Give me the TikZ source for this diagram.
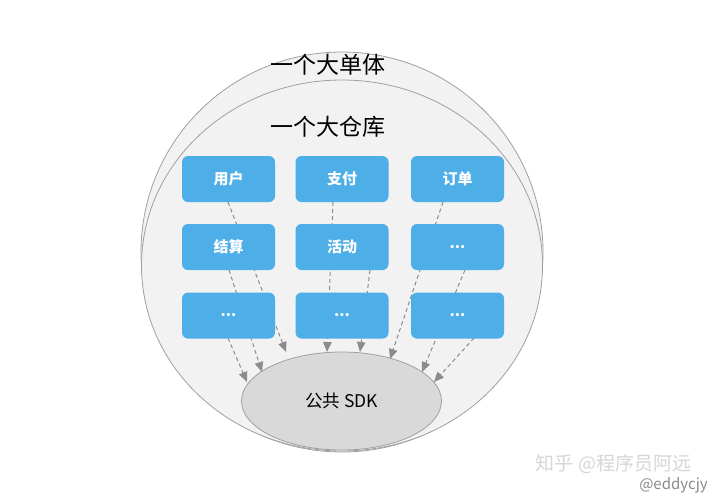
\documentclass[tikz,border=0pt]{standalone}
\usepackage{fontspec}
\setmainfont{Noto Sans CJK SC}
\usetikzlibrary{arrows.meta,calc,shapes.geometric}
\definecolor{boxblue}{HTML}{4DAEE8}
\definecolor{ringfill}{HTML}{F2F2F2}
\definecolor{ringline}{HTML}{A0A0A0}
\definecolor{sdkfill}{HTML}{D9D9D9}
\definecolor{arrowgray}{HTML}{8C8C8C}
\definecolor{wmgray}{HTML}{D6D6D6}
\definecolor{wmdark}{HTML}{8A8A8A}
\tikzset{
  ring/.style={ellipse, draw=ringline, line width=0.8pt, fill=ringfill, inner sep=0pt},
  modbox/.style={rectangle, rounded corners=6pt, fill=boxblue, minimum width=93pt, minimum height=46pt, inner sep=0pt, text=white, font=\fontsize{15}{15}\selectfont\bfseries},
  dep/.style={draw=arrowgray, dash pattern=on 4pt off 3pt, line width=1pt, -{Triangle[length=10pt,width=8.5pt,fill=arrowgray]}},
  title/.style={font=\fontsize{23}{23}\selectfont, text=black, inner sep=0pt}
}
\begin{document}
\begin{tikzpicture}[x=1pt,y=-1pt]
\useasboundingbox[fill=white] (0,0) rectangle (720,498);
% outer and inner regions
\node[ring, minimum width=402pt, minimum height=400pt] (outer) at (342,252) {};
\node[ring, minimum width=401pt, minimum height=371pt] (inner) at (342,265.5) {};
\node[title] (t1) at (327.5,65) {一个大单体};
\node[title] (t2) at (327.5,127) {一个大仓库};
% common SDK
\node[ellipse, draw=ringline, line width=0.8pt, fill=sdkfill, minimum width=200pt, minimum height=98pt, inner sep=0pt, font=\fontsize{17.5}{17.5}\selectfont] (sdk) at (341.5,401) {公共 SDK};
% arrow tips
\coordinate (e1) at ($(sdk.center)+(-55.5,-49)$);
\coordinate (e2) at ($(sdk.center)+(-79.5,-29)$);
\coordinate (e3) at ($(sdk.center)+(-94.5,-19)$);
\coordinate (e4) at ($(sdk.center)+(-14.5,-49)$);
\coordinate (e5) at ($(sdk.center)+(18.5,-49)$);
\coordinate (e6) at ($(sdk.center)+(48.5,-42)$);
\coordinate (e7) at ($(sdk.center)+(80.5,-29)$);
\coordinate (e8) at ($(sdk.center)+(92.5,-19)$);
% module positions
\coordinate (p11) at (228.5,179);
\coordinate (p12) at (342,179);
\coordinate (p13) at (457.5,179);
\coordinate (p21) at (228.5,247);
\coordinate (p22) at (342,247);
\coordinate (p23) at (457.5,247);
\coordinate (p31) at (228.5,315.5);
\coordinate (p32) at (342,315.5);
\coordinate (p33) at (457.5,315.5);
% dependency arrows (drawn behind boxes)
\draw[dep] ($(p11)+(-0.5,23)$) -- (e1);
\draw[dep] ($(p21)+(0.5,23)$) -- (e2);
\draw[dep] ($(p31)+(-0.5,22.5)$) -- (e3);
\draw[dep] ($(p12)+(-9,23)$) -- (e4);
\draw[dep] ($(p22)+(28,23)$) -- (e5);
\draw[dep] ($(p13)+(-14.5,23)$) -- (e6);
\draw[dep] ($(p23)+(7.5,23)$) -- (e7);
\draw[dep] ($(p33)+(16.5,22.5)$) -- (e8);
% modules
\node[modbox] (b11) at (p11) {用户};
\node[modbox] (b12) at (p12) {支付};
\node[modbox] (b13) at (p13) {订单};
\node[modbox] (b21) at (p21) {结算};
\node[modbox] (b22) at (p22) {活动};
\node[modbox] (b23) at (p23) {...};
\node[modbox] (b31) at (p31) {...};
\node[modbox] (b32) at (p32) {...};
\node[modbox] (b33) at (p33) {...};
% watermark
\node[font=\fontsize{19}{19}\selectfont, text=wmgray, inner sep=0pt] (wm1) at (613.5,464) {知乎 @程序员阿远};
\node[font=\fontsize{15}{15}\selectfont, text=wmdark, inner sep=0pt] (wm2) at (673.5,485) {@eddycjy};
\end{tikzpicture}
\end{document}
